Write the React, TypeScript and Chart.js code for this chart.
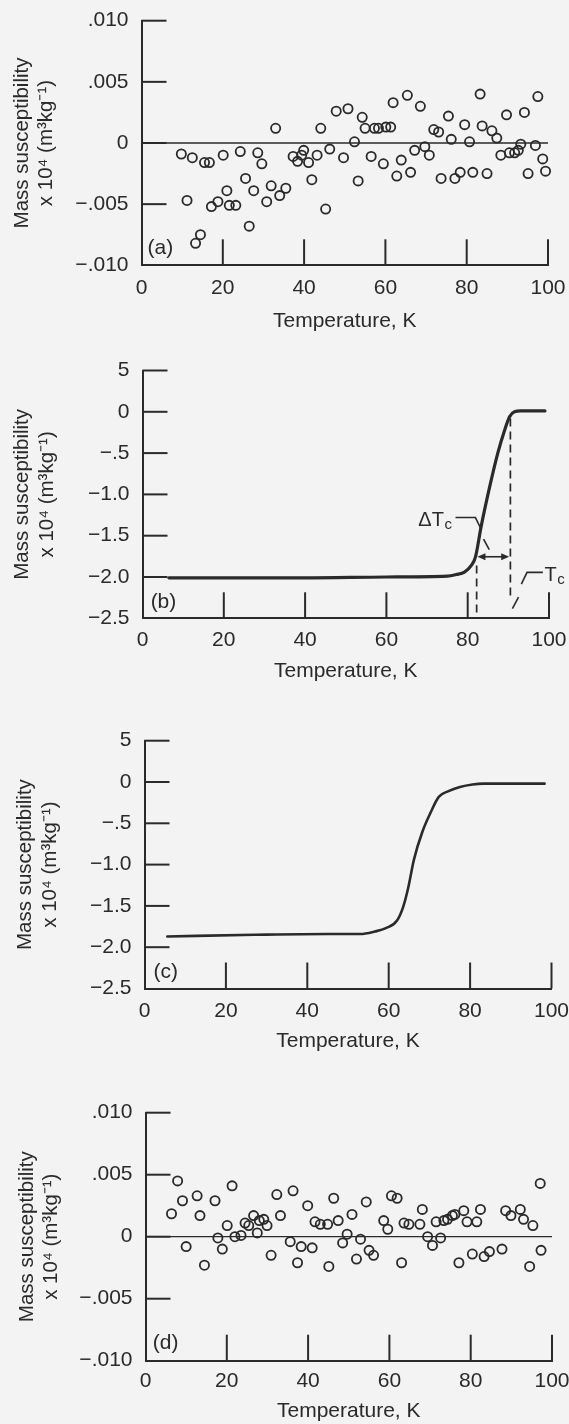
import React, { useEffect, useRef } from 'react';
import { Chart, registerables } from 'chart.js';

Chart.register(...registerables);

const FONT_FAMILY = '"Liberation Sans", Arimo, Arial, Helvetica, sans-serif';
const INK = '#2a2a2a';
const PAGE_BG = '#f3f3f3';
const PAGE_W = 569;
const PAGE_H = 1424;

// ---------- Panel (a): scattered susceptibility points ----------
const aTemp = [9.8, 11.2, 12.5, 13.3, 14.5, 15.5, 16.7, 17.2, 18.8, 20.1, 21.0, 21.6, 23.2, 24.3, 25.6, 26.5, 27.6, 28.6, 29.6, 30.8, 31.9, 33.0, 34.0, 35.5, 37.3, 38.4, 39.4, 39.9, 41.1, 41.9, 43.2, 44.1, 45.3, 46.3, 47.9, 49.7, 50.8, 52.4, 53.3, 54.3, 55.0, 56.5, 57.3, 58.3, 59.5, 60.1, 61.3, 61.9, 62.8, 63.9, 65.4, 66.2, 67.2, 68.6, 69.7, 70.8, 71.9, 73.1, 73.7, 75.5, 76.2, 77.1, 78.4, 79.5, 80.7, 81.5, 83.3, 83.8, 85.0, 86.2, 87.4, 88.4, 89.8, 90.5, 91.8, 92.7, 93.3, 94.2, 95.1, 96.9, 97.5, 98.7, 99.4];
const aSusc = [-0.0009, -0.0047, -0.0012, -0.0082, -0.0075, -0.0016, -0.0016, -0.0052, -0.0048, -0.0010, -0.0039, -0.0051, -0.0051, -0.0007, -0.0029, -0.0068, -0.0039, -0.0008, -0.0017, -0.0048, -0.0035, 0.0012, -0.0043, -0.0037, -0.0011, -0.0015, -0.0010, -0.0006, -0.0016, -0.0030, -0.0010, 0.0012, -0.0054, -0.0005, 0.0026, -0.0012, 0.0028, 0.0001, -0.0031, 0.0021, 0.0012, -0.0011, 0.0012, 0.0012, -0.0017, 0.0013, 0.0013, 0.0033, -0.0027, -0.0014, 0.0039, -0.0024, -0.0006, 0.0030, -0.0003, -0.0010, 0.0011, 0.0009, -0.0029, 0.0022, 0.0003, -0.0029, -0.0024, 0.0015, 0.0001, -0.0024, 0.0040, 0.0014, -0.0025, 0.0010, 0.0004, -0.0010, 0.0023, -0.0008, -0.0008, -0.0006, -0.0001, 0.0025, -0.0025, -0.0002, 0.0038, -0.0013, -0.0023];

// ---------- Panel (b): sharp transition curve ----------
const bTemp = [6.5, 20, 40, 60, 75, 77.2, 79.2, 80.9, 81.9, 83.3, 85.4, 87.4, 89.1, 90.3, 91.5, 93, 99];
const bSusc = [-2.01, -2.01, -2.01, -2.0, -1.99, -1.97, -1.94, -1.86, -1.76, -1.39, -0.91, -0.5, -0.22, -0.06, 0.0, 0.01, 0.01];

// ---------- Panel (c): broader transition curve ----------
const cTemp = [5.6, 27, 45, 53, 56.6, 59.3, 62.0, 63.5, 64.8, 66.2, 68.3, 70.3, 72.3, 74.7, 77.5, 80.6, 83.3, 98.3];
const cSusc = [-1.87, -1.85, -1.84, -1.84, -1.81, -1.77, -1.68, -1.52, -1.28, -0.94, -0.6, -0.37, -0.18, -0.11, -0.06, -0.03, -0.02, -0.02];

// ---------- Panel (d): scattered susceptibility points ----------
const dTemp = [6.4, 7.9, 9.1, 10.0, 12.7, 13.4, 14.5, 17.1, 17.8, 18.9, 20.1, 21.3, 22.0, 23.5, 24.5, 25.4, 26.6, 27.5, 28.0, 29.1, 29.9, 30.9, 32.3, 33.2, 35.6, 36.3, 37.4, 38.3, 39.9, 41.0, 41.7, 43.0, 44.8, 45.1, 46.3, 47.4, 48.5, 49.6, 50.8, 51.9, 52.9, 54.3, 55.0, 56.1, 58.6, 59.6, 60.5, 61.9, 63.0, 63.6, 64.8, 67.5, 68.1, 69.4, 70.6, 71.5, 72.6, 73.4, 74.3, 75.5, 76.1, 77.1, 78.3, 79.1, 80.4, 81.5, 82.4, 83.3, 84.6, 87.7, 88.6, 89.9, 92.2, 93.0, 94.5, 95.3, 97.1, 97.3];
const dSusc = [0.00185, 0.0045, 0.0029, -0.0008, 0.0033, 0.0017, -0.0023, 0.0029, -0.0001, -0.0010, 0.0009, 0.0041, 0.0000, 0.0001, 0.0011, 0.0009, 0.0017, 0.0003, 0.0013, 0.0014, 0.0009, -0.0015, 0.0034, 0.0017, -0.0004, 0.0037, -0.0021, -0.0008, 0.0025, -0.0009, 0.0012, 0.0010, 0.0010, -0.0024, 0.0031, 0.0013, -0.0005, 0.0002, 0.0018, -0.0018, -0.0002, 0.0028, -0.0011, -0.0015, 0.0013, 0.0006, 0.0033, 0.0031, -0.0021, 0.0011, 0.0010, 0.0010, 0.0022, 0.0000, -0.0007, 0.0012, -0.0001, 0.0013, 0.0014, 0.0017, 0.0018, -0.0021, 0.0021, 0.0012, -0.0014, 0.0012, 0.0022, -0.0016, -0.0012, -0.0010, 0.0021, 0.0017, 0.0022, 0.0014, -0.0024, 0.0009, 0.0043, -0.0011];

// ---------- Axes ----------
const X_TICK_VALUES = [0, 20, 40, 60, 80, 100];
const SMALL_Y_TICKS = [-0.01, -0.005, 0, 0.005, 0.01];
const SMALL_Y_LABELS = ['\u2212.010', '\u2212.005', '0', '.005', '.010'];
const LARGE_Y_TICKS = [-2.5, -2.0, -1.5, -1.0, -0.5, 0, 0.5];
const LARGE_Y_LABELS = ['\u22122.5', '\u22122.0', '\u22121.5', '\u22121.0', '\u2212.5', '0', '5'];
const X_TITLE = 'Temperature, K';
const Y_TITLE = ['Mass susceptibility', 'x 10\u2074 (m\u00B3kg\u207B\u00B9)'];
const ZERO_LINE_T = [0, 100];
const ZERO_LINE_V = [0, 0];

// ---------- Panel (b) annotation values ----------
const ONSET_T = 82.2;
const ONSET_V = [-1.86, -2.5];
const TC_T = 90.5;
const TC_V = [-0.08, -2.27];
const ARROW_T = [82.4, 90.2];
const ARROW_V = -1.755;
const DTC_LEADER_1_T = [77.0, 81.9, 83.2];
const DTC_LEADER_1_V = [-1.28, -1.28, -1.41];
const DTC_LEADER_2_T = [83.9, 85.3];
const DTC_LEADER_2_V = [-1.54, -1.67];
const DTC_LABEL_T = 76.0;
const DTC_LABEL_V = -1.31;
const TC_LEADER_1_T = [98.5, 94.6, 93.2];
const TC_LEADER_1_V = [-1.944, -1.944, -2.086];
const TC_LEADER_2_T = [92.5, 91.0];
const TC_LEADER_2_V = [-2.243, -2.383];
const TC_LABEL_T = 98.9;
const TC_LABEL_V = -1.98;

type Ctx = CanvasRenderingContext2D;

function polyline(ctx: Ctx, xs: any, ys: any, ts: number[], vs: number[]) {
  ctx.beginPath();
  ts.forEach((t, i) => {
    const px = xs.getPixelForValue(t);
    const py = ys.getPixelForValue(vs[i]);
    if (i === 0) ctx.moveTo(px, py);
    else ctx.lineTo(px, py);
  });
  ctx.stroke();
}

function subText(ctx: Ctx, main: string, sub: string, x: number, y: number, alignRight: boolean) {
  ctx.textBaseline = 'middle';
  ctx.textAlign = 'left';
  ctx.font = `20px ${FONT_FAMILY}`;
  const w1 = ctx.measureText(main).width;
  ctx.font = `15px ${FONT_FAMILY}`;
  const w2 = ctx.measureText(sub).width;
  const left = alignRight ? x - w1 - w2 : x;
  ctx.font = `20px ${FONT_FAMILY}`;
  ctx.fillText(main, left, y);
  ctx.font = `15px ${FONT_FAMILY}`;
  ctx.fillText(sub, left + w1 + 0.5, y + 5);
}

function drawTransitionMarks(ctx: Ctx, xs: any, ys: any) {
  ctx.strokeStyle = INK;
  ctx.fillStyle = INK;
  ctx.lineWidth = 1.7;
  ctx.setLineDash([8, 5]);
  polyline(ctx, xs, ys, [ONSET_T, ONSET_T], ONSET_V);
  polyline(ctx, xs, ys, [TC_T, TC_T], TC_V);
  ctx.setLineDash([]);
  // double-headed arrow
  const x1 = xs.getPixelForValue(ARROW_T[0]);
  const x2 = xs.getPixelForValue(ARROW_T[1]);
  const y = ys.getPixelForValue(ARROW_V);
  ctx.lineWidth = 1.6;
  ctx.beginPath();
  ctx.moveTo(x1 + 4, y);
  ctx.lineTo(x2 - 4, y);
  ctx.stroke();
  const head = (tip: number, dir: number) => {
    ctx.beginPath();
    ctx.moveTo(tip, y);
    ctx.lineTo(tip - dir * 8, y - 3.5);
    ctx.lineTo(tip - dir * 8, y + 3.5);
    ctx.closePath();
    ctx.fill();
  };
  head(x1, -1);
  head(x2, 1);
  // leader lines
  ctx.lineWidth = 1.6;
  polyline(ctx, xs, ys, DTC_LEADER_1_T, DTC_LEADER_1_V);
  polyline(ctx, xs, ys, DTC_LEADER_2_T, DTC_LEADER_2_V);
  polyline(ctx, xs, ys, TC_LEADER_1_T, TC_LEADER_1_V);
  polyline(ctx, xs, ys, TC_LEADER_2_T, TC_LEADER_2_V);
  // labels
  subText(ctx, '\u0394T', 'c', xs.getPixelForValue(DTC_LABEL_T), ys.getPixelForValue(DTC_LABEL_V), true);
  subText(ctx, 'T', 'c', xs.getPixelForValue(TC_LABEL_T), ys.getPixelForValue(TC_LABEL_V), false);
}

type PanelCfg = {
  letter: string;
  letterT: number;
  letterV: number;
  kind: 'points' | 'curve';
  temps: number[];
  values: number[];
  yTicks: number[];
  yLabels: string[];
  lineWidth?: number;
  annotate?: (ctx: Ctx, xs: any, ys: any) => void;
  top: number;
  h: number;
  chartTop: number;
  chartBottom: number;
  left: number;
  right: number;
  xLabelOffset: number;
  titleOffset: number;
  yTitleX: number;
};

const PANELS: PanelCfg[] = [
  {
    letter: '(a)', letterT: 1.5, letterV: -0.0086, kind: 'points', temps: aTemp, values: aSusc,
    yTicks: SMALL_Y_TICKS, yLabels: SMALL_Y_LABELS,
    top: 0, h: 340, chartTop: 20.7, chartBottom: 265.3, left: 141.5, right: 548,
    xLabelOffset: 23, titleOffset: 56.4, yTitleX: 22,
  },
  {
    letter: '(b)', letterT: 2.0, letterV: -2.3, kind: 'curve', temps: bTemp, values: bSusc,
    yTicks: LARGE_Y_TICKS, yLabels: LARGE_Y_LABELS, lineWidth: 3.2, annotate: drawTransitionMarks,
    top: 340, h: 360, chartTop: 370.5, chartBottom: 618.3, left: 142.5, right: 549,
    xLabelOffset: 21.7, titleOffset: 53.4, yTitleX: 22.5,
  },
  {
    letter: '(c)', letterT: 2.2, letterV: -2.3, kind: 'curve', temps: cTemp, values: cSusc,
    yTicks: LARGE_Y_TICKS, yLabels: LARGE_Y_LABELS, lineWidth: 2.6,
    top: 700, h: 360, chartTop: 740.7, chartBottom: 988.5, left: 144.5, right: 551.5,
    xLabelOffset: 23.2, titleOffset: 53.2, yTitleX: 25.5,
  },
  {
    letter: '(d)', letterT: 1.8, letterV: -0.0086, kind: 'points', temps: dTemp, values: dSusc,
    yTicks: SMALL_Y_TICKS, yLabels: SMALL_Y_LABELS,
    top: 1060, h: 364, chartTop: 1112.7, chartBottom: 1361, left: 145.5, right: 552,
    xLabelOffset: 20.7, titleOffset: 50.7, yTitleX: 27,
  },
];

function overlayPlugin(p: PanelCfg) {
  return {
    id: 'overlay',
    afterDraw(chart: any) {
      const { ctx, chartArea } = chart;
      const xs = chart.scales.x;
      const ys = chart.scales.y;
      ctx.save();
      ctx.strokeStyle = INK;
      ctx.lineWidth = 2;
      ys.ticks.forEach((t: any, i: number) => {
        if (i === 0) return;
        const y = ys.getPixelForValue(t.value);
        ctx.beginPath();
        ctx.moveTo(chartArea.left, y);
        ctx.lineTo(chartArea.left + 25, y);
        ctx.stroke();
      });
      xs.ticks.forEach((t: any, i: number) => {
        if (i === 0) return;
        const x = xs.getPixelForValue(t.value);
        ctx.beginPath();
        ctx.moveTo(x, chartArea.bottom);
        ctx.lineTo(x, chartArea.bottom - 26);
        ctx.stroke();
      });
      ctx.fillStyle = INK;
      ctx.font = `21px ${FONT_FAMILY}`;
      ctx.textAlign = 'left';
      ctx.textBaseline = 'middle';
      ctx.fillText(p.letter, xs.getPixelForValue(p.letterT), ys.getPixelForValue(p.letterV));
      if (p.annotate) p.annotate(ctx, xs, ys);
      ctx.restore();
    },
  };
}

function buildConfig(p: PanelCfg): any {
  const tickSize = 21;
  const lh = tickSize * 1.2;
  const titleSize = 20.5;
  const titleLh = titleSize * 1.2;
  const xAxisHeight = p.titleOffset + lh / 2;
  const padBottom = Math.max(0, p.top + p.h - p.chartBottom - xAxisHeight);
  const xy = p.temps.map((t, i) => ({ x: t, y: p.values[i] }));
  const datasets =
    p.kind === 'points'
      ? [
          {
            type: 'line',
            data: ZERO_LINE_T.map((t, i) => ({ x: t, y: ZERO_LINE_V[i] })),
            borderColor: INK,
            borderWidth: 1.3,
            pointRadius: 0,
            fill: false,
            order: 2,
          },
          {
            type: 'scatter',
            data: xy,
            pointRadius: 4.6,
            pointBorderWidth: 1.8,
            pointBorderColor: INK,
            pointBackgroundColor: 'rgba(0,0,0,0)',
            showLine: false,
            clip: false,
            order: 1,
          },
        ]
      : [
          {
            type: 'line',
            data: xy,
            borderColor: INK,
            borderWidth: p.lineWidth,
            pointRadius: 0,
            fill: false,
            cubicInterpolationMode: 'monotone',
            borderCapStyle: 'round',
            borderJoinStyle: 'round',
          },
        ];
  return {
    type: 'scatter',
    data: { datasets },
    plugins: [overlayPlugin(p)],
    options: {
      responsive: false,
      animation: false,
      devicePixelRatio: 1,
      events: [],
      layout: {
        padding: { left: 0, top: p.chartTop - p.top, right: PAGE_W - p.right, bottom: padBottom },
      },
      plugins: { legend: { display: false }, tooltip: { enabled: false } },
      scales: {
        x: {
          type: 'linear',
          position: 'bottom',
          min: 0,
          max: 100,
          afterBuildTicks: (s: any) => {
            s.ticks = X_TICK_VALUES.map((v) => ({ value: v }));
          },
          afterFit: (s: any) => {
            s.height = xAxisHeight;
            s.paddingLeft = 0;
            s.paddingRight = 0;
          },
          ticks: {
            font: { family: FONT_FAMILY, size: tickSize, lineHeight: 1.2 },
            color: INK,
            padding: p.xLabelOffset - lh / 2,
            maxRotation: 0,
            autoSkip: false,
            callback: (v: number) => String(v),
          },
          grid: { display: true, drawOnChartArea: false, drawTicks: false, color: 'rgba(0,0,0,0)' },
          border: { display: true, color: INK, width: 2 },
          title: {
            display: true,
            text: X_TITLE,
            color: INK,
            font: { family: FONT_FAMILY, size: tickSize, lineHeight: 1.2 },
            padding: 0,
          },
        },
        y: {
          type: 'linear',
          position: 'left',
          min: p.yTicks[0],
          max: p.yTicks[p.yTicks.length - 1],
          afterBuildTicks: (s: any) => {
            s.ticks = p.yTicks.map((v) => ({ value: v }));
          },
          afterFit: (s: any) => {
            s.width = p.left;
            s.paddingTop = 0;
            s.paddingBottom = 0;
          },
          ticks: {
            font: { family: FONT_FAMILY, size: tickSize, lineHeight: 1.2 },
            color: INK,
            padding: 13,
            autoSkip: false,
            callback: (_v: number, i: number) => p.yLabels[i],
          },
          grid: { display: true, drawOnChartArea: false, drawTicks: false, color: 'rgba(0,0,0,0)' },
          border: { display: true, color: INK, width: 2 },
          title: {
            display: true,
            text: Y_TITLE,
            color: INK,
            font: { family: FONT_FAMILY, size: titleSize, lineHeight: 1.2 },
            padding: { top: p.yTitleX - titleLh / 2, bottom: 0 },
          },
        },
      },
    },
  };
}

function Panel({ p }: { p: PanelCfg }) {
  const ref = useRef<HTMLCanvasElement>(null);
  useEffect(() => {
    if (!ref.current) return;
    const chart = new Chart(ref.current, buildConfig(p));
    return () => chart.destroy();
  }, [p]);
  return (
    <canvas
      ref={ref}
      width={PAGE_W}
      height={p.h}
      style={{ position: 'absolute', left: 0, top: p.top, width: PAGE_W, height: p.h, display: 'block' }}
    />
  );
}

export default function App() {
  return (
    <div
      style={{
        position: 'absolute',
        left: 0,
        top: 0,
        width: PAGE_W,
        height: PAGE_H,
        background: PAGE_BG,
        overflow: 'hidden',
      }}
    >
      {PANELS.map((p) => (
        <Panel key={p.letter} p={p} />
      ))}
    </div>
  );
}
